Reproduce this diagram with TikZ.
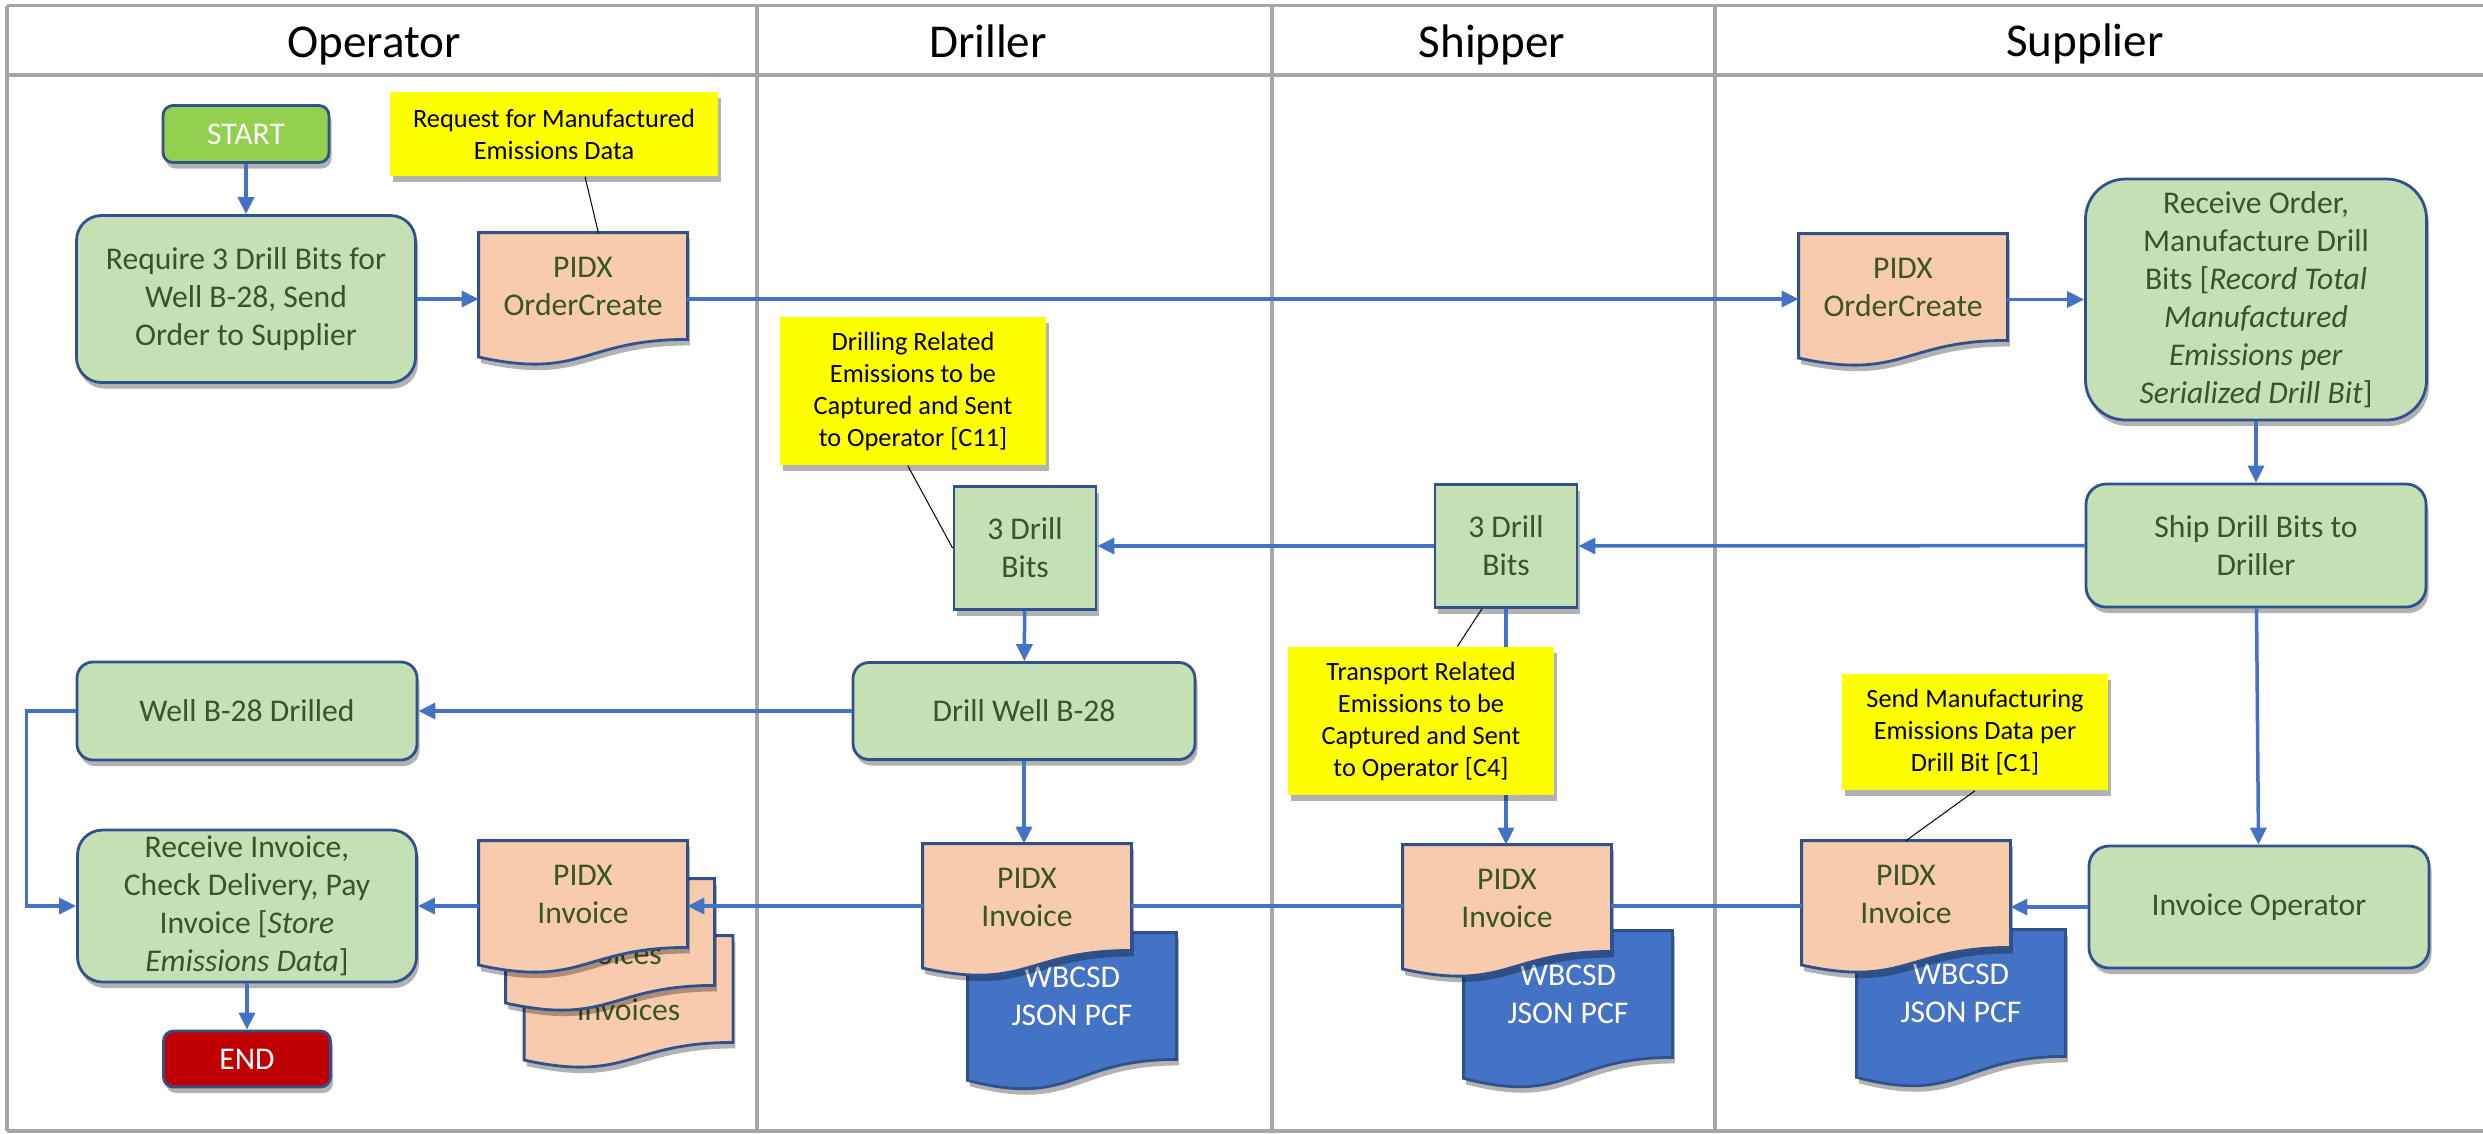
\documentclass[tikz,border=0pt]{standalone}
\usepackage{fontspec}
\setmainfont{Carlito}
\usetikzlibrary{positioning, arrows.meta, shadows}

\definecolor{lanegray}{HTML}{A6A6A6}
\definecolor{edgeblue}{HTML}{2F528F}
\definecolor{arrowblue}{HTML}{4472C4}
\definecolor{procgreen}{HTML}{C5E0B4}
\definecolor{txtgreen}{HTML}{375623}
\definecolor{docpeach}{HTML}{F8CBAD}
\definecolor{startgreen}{HTML}{92D050}
\definecolor{endred}{HTML}{C00000}
\definecolor{noteyellow}{HTML}{FFFF00}

\newcommand{\bodyfont}{\fontsize{9}{10.8}\selectfont}
\newcommand{\notefont}{\fontsize{7.5}{9.1}\selectfont}
\newcommand{\headfont}{\fontsize{13.4}{16}\selectfont}

% document shape: rectangle with a wavy bottom edge
\makeatletter
\pgfdeclareshape{wavedoc}{%
  \inheritsavedanchors[from=rectangle]%
  \inheritanchorborder[from=rectangle]%
  \inheritanchor[from=rectangle]{center}%
  \inheritanchor[from=rectangle]{north}%
  \inheritanchor[from=rectangle]{south}%
  \inheritanchor[from=rectangle]{east}%
  \inheritanchor[from=rectangle]{west}%
  \inheritanchor[from=rectangle]{north east}%
  \inheritanchor[from=rectangle]{north west}%
  \inheritanchor[from=rectangle]{south east}%
  \inheritanchor[from=rectangle]{south west}%
  \backgroundpath{%
    \southwest \edef\wdxa{\the\pgf@x}\edef\wdya{\the\pgf@y}%
    \northeast \edef\wdxb{\the\pgf@x}\edef\wdyb{\the\pgf@y}%
    \pgfmathsetmacro\wdxm{((\wdxa)+(\wdxb))/2}%
    \pgfmathsetmacro\wdyc{(\wdya)-0.381*((\wdyb)-(\wdya))}%
    \pgfmathsetmacro\wdyl{(\wdya)-0.165*((\wdyb)-(\wdya))}%
    \pgfpathmoveto{\pgfqpoint{\wdxa}{\wdyb}}%
    \pgfpathlineto{\pgfqpoint{\wdxb}{\wdyb}}%
    \pgfpathlineto{\pgfqpoint{\wdxb}{\wdya}}%
    \pgfpathcurveto{\pgfqpoint{\wdxm pt}{\wdya}}{\pgfqpoint{\wdxm pt}{\wdyc pt}}{\pgfqpoint{\wdxa}{\wdyl pt}}%
    \pgfpathclose
  }%
}
\makeatother

\tikzset{
  lane/.style={draw=lanegray, line width=0.35mm},
  head/.style={font=\headfont, text=black, anchor=base},
  dropsh/.style={drop shadow={shadow xshift=0.25mm, shadow yshift=-0.6mm, opacity=0.3, fill=black}},
  proc/.style={draw=edgeblue, fill=procgreen, line width=0.28mm, rounded corners=2.5mm,
    text=txtgreen, font=\bodyfont, align=center, inner sep=0pt, dropsh},
  bits/.style={proc, rounded corners=0pt, minimum width=1.42cm, minimum height=1.23cm},
  terminal/.style={proc, rounded corners=1mm, text=white},
  doc/.style={shape=wavedoc, draw=edgeblue, fill=docpeach, line width=0.28mm, text=txtgreen,
    font=\bodyfont, align=center, inner sep=0pt, minimum width=2.06cm, minimum height=1.04cm, dropsh},
  wbdoc/.style={doc, fill=arrowblue, text=white, minimum height=1.24cm},
  doclbl/.style={font=\bodyfont, text=txtgreen},
  note/.style={fill=noteyellow, text=black, font=\notefont, align=center, inner sep=0pt, dropsh},
  flow/.style={->, draw=arrowblue, line width=0.35mm},
  link/.style={draw=arrowblue, line width=0.35mm},
  callout/.style={draw=black, line width=0.1mm},
}

\begin{document}
\begin{tikzpicture}[>={Triangle[length=1.7mm,width=1.6mm]}, node distance=1.65cm]
\useasboundingbox (0,0) rectangle (24.83,-11.33);

% swimlanes
\draw[lane] (0.07,-0.055) -- (24.83,-0.055);
\draw[lane] (0.07,-0.75) -- (24.83,-0.75);
\draw[lane] (0.07,-11.31) -- (24.83,-11.31);
\foreach \x in {0.07,7.57,12.72,17.15}
  \draw[lane] (\x,-0.055) -- (\x,-11.31);

\node[head] (hop) at (3.74,-0.57) {Operator};
\node[head] (hdrill) at (9.88,-0.57) {Driller};
\node[head] (hship) at (14.92,-0.57) {Shipper};
\node[head] (hsup) at (20.85,-0.56) {Supplier};

% operator
\node[terminal, fill=startgreen, minimum width=1.66cm, minimum height=0.57cm] (start) at (2.46,-1.34) {START};
\node[proc, minimum width=3.39cm, minimum height=1.67cm] (req) [below of=start] {Require 3 Drill Bits for\\Well B-28, Send\\Order to Supplier};
\node[doc] (ocop) at (5.83,-2.86) {PIDX\\OrderCreate};
\node[proc, rounded corners=1.6mm, minimum width=3.40cm, minimum height=0.98cm] (welldone) at (2.47,-7.11) {Well B-28 Drilled};
\node[proc, minimum width=3.39cm, minimum height=1.52cm] (recinv) at (2.47,-9.06) {Receive Invoice,\\Check Delivery, Pay\\Invoice [\textit{Store}\\\textit{Emissions Data}]};
\node[terminal, fill=endred, minimum width=1.67cm, minimum height=0.56cm] (finish) [below of=recinv, node distance=1.53cm] {END};

% supplier
\node[doc] (ocsup) at (19.03,-2.87) {PIDX\\OrderCreate};
\node[proc, rounded corners=4mm, minimum width=3.41cm, minimum height=2.41cm] (recorder) at (22.56,-2.995) {Receive Order,\\Manufacture Drill\\Bits [\textit{Record Total}\\\textit{Manufactured}\\\textit{Emissions per}\\\textit{Serialized Drill Bit}]};
\node[proc, rounded corners=2mm, minimum width=3.40cm, minimum height=1.23cm] (ship) [below of=recorder, node distance=2.46cm] {Ship Drill Bits to\\Driller};
\node[proc, rounded corners=2mm, minimum width=3.40cm, minimum height=1.22cm] (invop) at (22.59,-9.07) {Invoice Operator};

% shipper and driller
\node[bits] (bitsship) at (15.06,-5.46) {3 Drill\\Bits};
\node[bits] (bitsdrill) at (10.25,-5.48) {3 Drill\\Bits};
\node[proc, rounded corners=1.6mm, minimum width=3.42cm, minimum height=0.97cm] (drill) at (10.24,-7.11) {Drill Well B-28};

% invoices
\node[wbdoc] (wbsup) at (19.61,-9.93) {WBCSD\\JSON PCF};
\node[doc] (pidxsup) at (19.06,-8.94) {PIDX\\Invoice};
\node[wbdoc] (wbship) at (15.68,-9.94) {WBCSD\\JSON PCF};
\node[doc] (pidxship) at (15.07,-8.98) {PIDX\\Invoice};
\node[wbdoc] (wbdrill) at (10.72,-9.96) {WBCSD\\JSON PCF};
\node[doc] (pidxdrill) at (10.27,-8.97) {PIDX\\Invoice};
\node[doc, label={[doclbl, yshift=-2.1mm]center:Invoices}] (inv3) at (6.285,-9.89) {};
\node[doc, label={[doclbl, yshift=-2.2mm]center:Invoices}] (inv2) at (6.10,-9.32) {};
\node[doc] (inv1) at (5.83,-8.94) {PIDX\\Invoice};
\coordinate (invrow) at (0,-9.06);

% flow
\draw[flow] (start) -- (req);
\draw[flow] (req.east) -- (req.east -| ocop.west);
\draw[flow] (req.east -| ocop.east) -- (req.east -| ocsup.west);
\draw[flow] (recorder.west -| ocsup.east) -- (recorder.west);
\draw[flow] (recorder) -- (ship);
\draw[flow] (ship) -- (bitsship);
\draw[flow] (bitsship.west) -- (bitsship.west -| bitsdrill.east);
\draw[flow] (bitsdrill) -- (drill);
\draw[flow] (drill) -- (welldone);
\draw[flow] (welldone.west) -- ++(-0.49,0) |- (recinv.west);
\draw[flow] (recinv) -- (finish);
\draw[flow] (ship) -- (invop);
\draw[flow] (drill.south) -- (drill.south |- pidxdrill.north);
\draw[flow] (bitsship.south) -- (bitsship.south |- pidxship.north);
\draw[flow] (invop.west) -- (invop.west -| pidxsup.east);
\draw[link] (invrow -| pidxsup.west) -- (invrow -| pidxship.east);
\draw[link] (invrow -| pidxship.west) -- (invrow -| pidxdrill.east);
\draw[flow] (invrow -| pidxdrill.west) -- (invrow -| inv1.east);
\draw[flow] (invrow -| inv1.west) -- (recinv.east);

% notes
\node[note, minimum width=3.28cm, minimum height=0.84cm] (notereq) at (5.54,-1.34) {Request for Manufactured\\Emissions Data};
\node[note, minimum width=2.66cm, minimum height=1.48cm] (notedrill) at (9.13,-3.91) {Drilling Related\\Emissions to be\\Captured and Sent\\to Operator [C11]};
\node[note, minimum width=2.66cm, minimum height=1.48cm] (noteship) at (14.21,-7.21) {Transport Related\\Emissions to be\\Captured and Sent\\to Operator [C4]};
\node[note, minimum width=2.66cm, minimum height=1.16cm] (notesup) at (19.75,-7.32) {Send Manufacturing\\Emissions Data per\\Drill Bit [C1]};

\draw[callout] (notereq.-54) -- (ocop.74);
\draw[callout] (notedrill.-94) -- (bitsdrill.west);
\draw[callout] (noteship.64) -- (bitsship.-111);
\draw[callout] (notesup.south) -- (pidxsup.north);

\end{tikzpicture}
\end{document}
